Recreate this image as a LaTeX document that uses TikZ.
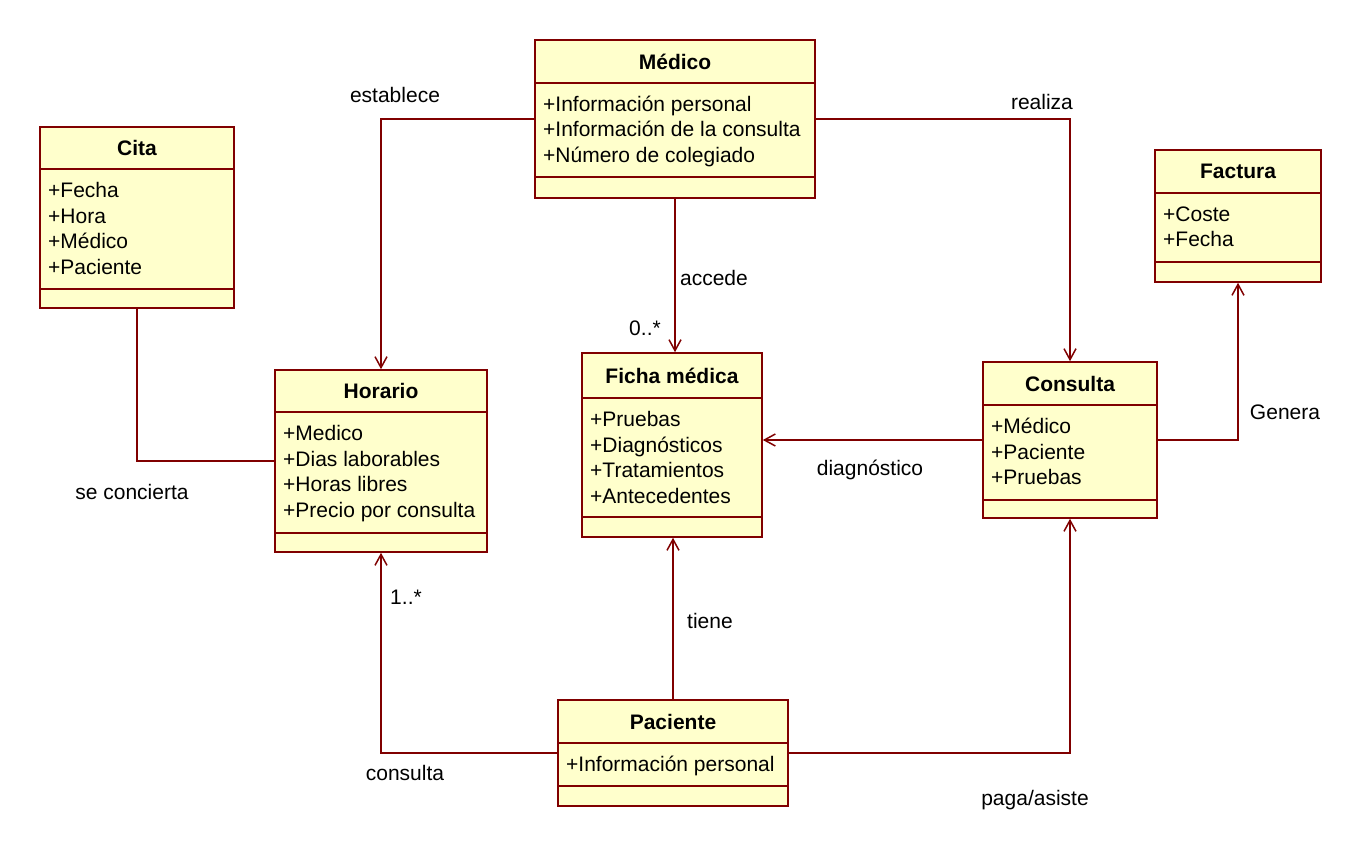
\documentclass[tikz,border=0pt]{standalone}
\usepackage{fontspec}
\setmainfont{Liberation Sans}
\usetikzlibrary{arrows.meta}

\definecolor{umlfill}{HTML}{FFFFCC}
\definecolor{umlline}{HTML}{800000}

\tikzset{
  classbox/.style={draw=umlline, fill=umlfill, line width=1.6pt, inner sep=0pt},
  divider/.style={draw=umlline, line width=1.6pt},
  classtitle/.style={font=\fontsize{21}{25.5}\selectfont\bfseries, inner sep=0pt},
  attr/.style={anchor=base west, inner sep=0pt},
  assoc/.style={draw=umlline, line width=1.6pt,
    -{Straight Barb[length=11pt,width=12pt,line width=1.5pt]}},
  link/.style={draw=umlline, line width=1.6pt},
  rolelabel/.style={inner sep=0pt},
}

% name, left, top, right, bottom, title line, attr line, title, attributes
\newcommand{\umlclass}[9]{%
  \node[classbox, minimum width={(#4-#2)*1pt}, minimum height={(#5-#3)*1pt}]
    (#1) at ({(#2+#4)/2},{(#3+#5)/2}) {};
  \draw[divider] (#2,#6) -- (#4,#6);
  \draw[divider] (#2,#7) -- (#4,#7);
  \node[classtitle] (#1-title) at ({(#2+#4)/2},{(#3+#6)/2}) {#8};
  \foreach \attrib [count=\i] in {#9}
    \node[attr] (#1-a\i) at (#2+8,{#6+28.5+25.5*(\i-1)}) {\attrib};
}

\begin{document}
\begin{tikzpicture}[x=1pt, y=-1pt, font=\fontsize{21}{25.5}\selectfont]
  \useasboundingbox (0,0) rectangle (1361,848);

  % clases
  \umlclass{medico}{535}{40}{815}{198}{83}{177}{Médico}{+Información personal,+Información de la consulta,+Número de colegiado}
  \umlclass{cita}{40}{127}{234}{308}{169}{289}{Cita}{+Fecha,+Hora,+Médico,+Paciente}
  \umlclass{factura}{1155}{150}{1321}{282}{193}{262}{Factura}{+Coste,+Fecha}
  \umlclass{horario}{275}{370}{487}{552}{412}{533}{Horario}{+Medico,+Dias laborables,+Horas libres,+Precio por consulta}
  \umlclass{ficha}{582}{353}{762}{537}{398}{517}{Ficha médica}{+Pruebas,+Diagnósticos,+Tratamientos,+Antecedentes}
  \umlclass{consulta}{983}{362}{1157}{518}{405}{500}{Consulta}{+Médico,+Paciente,+Pruebas}
  \umlclass{paciente}{558}{700}{788}{806}{743}{786}{Paciente}{+Información personal}

  % asociaciones
  \draw[assoc] (medico.west) -| (horario.north);
  \draw[assoc] (medico.east) -| (consulta.north);
  \draw[assoc] (medico.south) -- (medico.south |- ficha.north);
  \draw[link] (cita.south) |- (horario.west);
  \draw[assoc] (consulta.east) -| (factura.south);
  \draw[assoc] (consulta.west) -- (consulta.west -| ficha.east);
  \draw[assoc] (paciente.north) -- (paciente.north |- ficha.south);
  \draw[assoc] (paciente.west) -| (horario.south);
  \draw[assoc] (paciente.east) -| (consulta.south);

  % etiquetas
  \node[rolelabel] (l-establece) at (395,95) {establece};
  \node[rolelabel] (l-realiza) at (1042,102) {realiza};
  \node[rolelabel] (l-accede) at (714,278) {accede};
  \node[rolelabel] (l-muchos) at (645,328) {0..*};
  \node[rolelabel] (l-concierta) at (132,492) {se concierta};
  \node[rolelabel] (l-diagnostico) at (870,470) {diagnóstico};
  \node[rolelabel] (l-genera) at (1285,412) {Genera};
  \node[rolelabel] (l-tiene) at (710,621) {tiene};
  \node[rolelabel] (l-uno) at (406,597) {1..*};
  \node[rolelabel] (l-consulta) at (405,773) {consulta};
  \node[rolelabel] (l-paga) at (1035,800) {paga/asiste};
\end{tikzpicture}
\end{document}
